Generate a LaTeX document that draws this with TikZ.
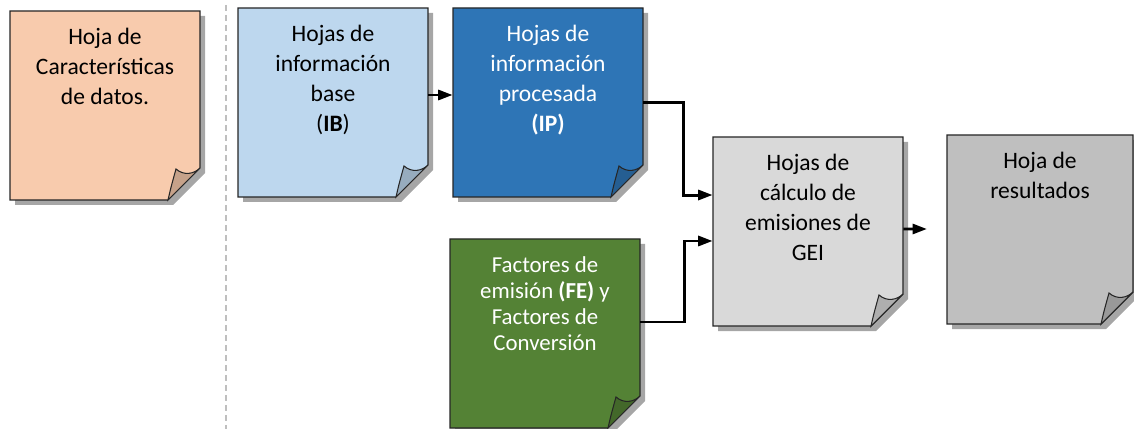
\documentclass[tikz,border=0pt]{standalone}
\usepackage{fontspec}
\setmainfont{Carlito}
\usepackage{xcolor}
\definecolor{hjnaranja}{HTML}{F8CBAD}
\definecolor{hjceleste}{HTML}{BDD7EE}
\definecolor{hjazul}{HTML}{2E75B6}
\definecolor{hjgrisclaro}{HTML}{D9D9D9}
\definecolor{hjgris}{HTML}{BFBFBF}
\definecolor{hjverde}{HTML}{548235}
\definecolor{hjsombra}{HTML}{A6A6A6}
\definecolor{hjborde}{HTML}{262626}
\usepackage{tikz}
\usetikzlibrary{arrows.meta, positioning, calc}

\tikzset{
  sombra/.style={fill=hjsombra},
  borde/.style={draw=hjborde, line width=0.6pt, line join=miter},
  hojanodo/.style={inner sep=0pt, minimum height=3.78cm},
  texto/.style={align=center, anchor=north, inner sep=0pt,
    font=\fontsize{13.4}{17.2}\selectfont,
    execute at begin node={\rule{0pt}{12pt}}},
  flecha/.style={line width=1.7pt, -{Triangle[length=0.29cm,width=0.2cm]}},
  separador/.style={draw=hjgris, line width=0.6pt, dash pattern=on 0.12cm off 0.08cm}
}

% hoja con esquina doblada: #1 nombre, #2 x, #3 y (arriba izq.), #4 ancho, #5 color
\newcommand{\hoja}[5]{%
  \fill[sombra] (#2+5,#3+5) -- (#2+#4+5,#3+5) -- (#2+#4+5,#3+162)
    -- (#2+#4-27,#3+194) -- (#2+5,#3+194) -- cycle;
  \draw[borde, fill=#5] (#2,#3) -- ++(#4,0) -- ++(0,157) -- ++(-32,32)
    -- ++(-#4+32,0) -- cycle;
  \draw[borde, fill=#5!80!black] (#2+#4-32,#3+189)
    .. controls (#2+#4-29,#3+176) .. (#2+#4-24,#3+158)
    .. controls (#2+#4-16,#3+165) and (#2+#4-6,#3+163) .. (#2+#4,#3+157) -- cycle;
  \node[hojanodo, minimum width={#4*0.02cm}] (#1) at (#2+#4/2,#3+94.5) {};
}

\begin{document}
\begin{tikzpicture}[x=0.02cm, y=-0.02cm]
  \useasboundingbox (0,0) rectangle (1134,429);

  % separador
  \draw[separador] (226,5) -- (226,429);

  % --- hojas ---
  \hoja{car}{10}{11}{190}{hjnaranja}
  \hoja{ib}{238}{8}{190}{hjceleste}
  \hoja{ip}{453}{8}{190}{hjazul}
  \hoja{gei}{713}{137}{190}{hjgrisclaro}
  \hoja{res}{947}{135}{186}{hjgris}
  \hoja{fe}{450}{239}{190}{hjverde}

  % --- textos ---
  \node[texto] (carT) at ([yshift=-9.5pt]car.north) {Hoja de\\Características\\de datos.};
  \node[texto] (ibT) at ([yshift=-9.5pt]ib.north) {Hojas de\\información\\base\\(\textbf{IB})};
  \node[texto, white] (ipT) at ([yshift=-9.5pt]ip.north) {Hojas de\\información\\procesada\\\textbf{(IP)}};
  \node[texto] (geiT) at ([yshift=-9.5pt]gei.north) {Hojas de\\cálculo de\\emisiones de\\GEI};
  \node[texto] (resT) at ([yshift=-9.5pt]res.north) {Hoja de\\resultados};
  \node[texto, white, font=\fontsize{13}{14.8}\selectfont] (feT) at ([yshift=-9.8pt]fe.north)
    {Factores de\\emisión \textbf{(FE)} y\\Factores de\\Conversión};

  % --- conectores ---
  \draw[flecha] ([yshift=0.15cm]ib.east) -- ([yshift=0.15cm]ip.west);
  \draw[flecha] (ip.east) -- ++(40,0) |- ([yshift=0.73cm]gei.west);
  \draw[flecha] ([yshift=0.23cm]fe.east) -- ++(44,0) |- ([yshift=-0.19cm]gei.west);
  \coordinate (resIn) at (927,229);
  \draw[flecha] ([yshift=0.05cm]gei.east) -- (resIn);
\end{tikzpicture}
\end{document}
